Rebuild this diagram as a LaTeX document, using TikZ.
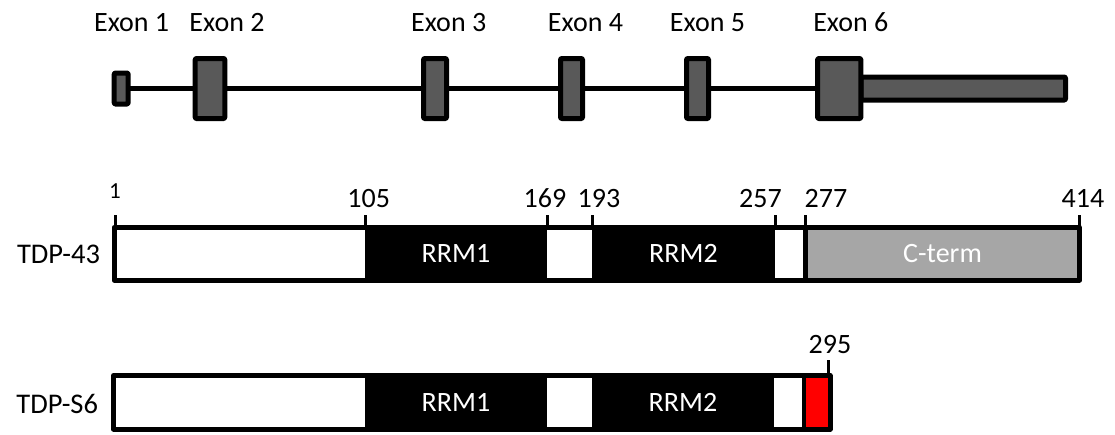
\documentclass[tikz,border=0pt]{standalone}
\usepackage{fontspec}
\setmainfont{Carlito}
\definecolor{exongray}{HTML}{595959}
\definecolor{ctermgray}{HTML}{A6A6A6}
\definecolor{tailred}{HTML}{FF0000}
\begin{document}
\begin{tikzpicture}[x=1pt,y=-1pt,
  every node/.style={inner sep=0pt, outer sep=0pt},
  lbl/.style={font=\fontsize{28}{33}\selectfont, anchor=base},
  smalllbl/.style={font=\fontsize{23}{27}\selectfont, anchor=base},
  namelbl/.style={font=\fontsize{28.5}{33}\selectfont, anchor=east},
  exon/.style={draw=black, fill=exongray, line width=5pt, line join=round, rounded corners=1pt},
  intron/.style={line width=5pt},
  seg/.style={draw=none, font=\fontsize{28}{33}\selectfont, text=white},
  barbox/.style={draw=black, line width=5pt, line join=round},
  tickmark/.style={line width=3pt}]
\useasboundingbox (0,0) rectangle (1115,434);

% ---------- gene structure ----------
\node[exon, minimum width=204.5, minimum height=23] (tail) at (963.25,88.5) {};
\node[exon, minimum width=14,   minimum height=31] (e1) at (121.2,88.5) {};
\node[exon, minimum width=29.6, minimum height=60] (e2) at (210,88.5) {};
\node[exon, minimum width=23,   minimum height=60] (e3) at (435,88.5) {};
\node[exon, minimum width=22,   minimum height=60] (e4) at (571.5,88.5) {};
\node[exon, minimum width=22,   minimum height=60] (e5) at (697.5,88.5) {};
\node[exon, minimum width=43.3, minimum height=60] (e6) at (839.2,88.5) {};
\draw[intron] (e1.east) -- (e2.west);
\draw[intron] (e2.east) -- (e3.west);
\draw[intron] (e3.east) -- (e4.west);
\draw[intron] (e4.east) -- (e5.west);
\draw[intron] (e5.east) -- (e6.west);

\node[lbl] (x1) at (131.7,31.5) {Exon 1};
\node[lbl] (x2) at (227,31.5) {Exon 2};
\node[lbl] (x3) at (448.7,31.5) {Exon 3};
\node[lbl] (x4) at (585.5,31.5) {Exon 4};
\node[lbl] (x5) at (707.5,31.5) {Exon 5};
\node[lbl] (x6) at (850.8,31.5) {Exon 6};

% ---------- TDP-43 ----------
\node[fill=white, minimum width=965.5, minimum height=52.5] (p43bg) at (596.75,253.75) {};
\node[seg, fill=black, minimum width=182, minimum height=52.5] (a1) at (456,253.75) {RRM1};
\node[seg, fill=black, minimum width=183, minimum height=52.5] (a2) at (683.5,253.75) {RRM2};
\node[seg, fill=ctermgray, minimum width=274, minimum height=52.5] (ct) at (942.5,253.75) {C-term};
\draw[line width=5pt] (ct.north west) -- (ct.south west);
\node[barbox, minimum width=965.5, minimum height=52.5] (p43) at (596.75,253.75) {};

\draw[tickmark] ([xshift=1pt]p43.north west) -- ++(0,-12.5);
\draw[tickmark] (a1.north west) -- ++(0,-12.5);
\draw[tickmark] (a1.north east) -- ++(0,-12.5);
\draw[tickmark] (a2.north west) -- ++(0,-12.5);
\draw[tickmark] (a2.north east) -- ++(0,-12.5);
\draw[tickmark] (ct.north west) -- ++(0,-12.5);
\draw[tickmark] (p43.north east) -- ++(0,-12.5);

\node[smalllbl] (n1) at (115,198.3) {1};
\node[lbl] (n105) at (368.7,207.5) {105};
\node[lbl] (n169) at (545,207.5) {169};
\node[lbl] (n193) at (599,207.5) {193};
\node[lbl] (n257) at (760.5,207.5) {257};
\node[lbl] (n277) at (826,207.5) {277};
\node[lbl] (n414) at (1083,207.5) {414};
\node[namelbl] (t43) at (100,254) {TDP-43};

% ---------- TDP-S6 ----------
\node[fill=white, minimum width=716.5, minimum height=53.5] (s6bg) at (471.75,402.25) {};
\node[seg, fill=black, minimum width=182, minimum height=53.5] (b1) at (456,402.25) {RRM1};
\node[seg, fill=black, minimum width=182, minimum height=53.5] (b2) at (683,402.25) {RRM2};
\node[fill=tailred, minimum width=24, minimum height=53.5] (rd) at (818,402.25) {};
\draw[line width=4pt] ([xshift=-2pt]rd.north west) -- ([xshift=-2pt]rd.south west);
\node[barbox, minimum width=716.5, minimum height=53.5] (s6) at (471.75,402.25) {};

\draw[tickmark] ([xshift=-1.5pt]s6.north east) -- ++(0,-15.5);
\node[lbl] (n295) at (830,353.3) {295};
\node[namelbl] (ts6) at (98,404) {TDP-S6};
\end{tikzpicture}
\end{document}
